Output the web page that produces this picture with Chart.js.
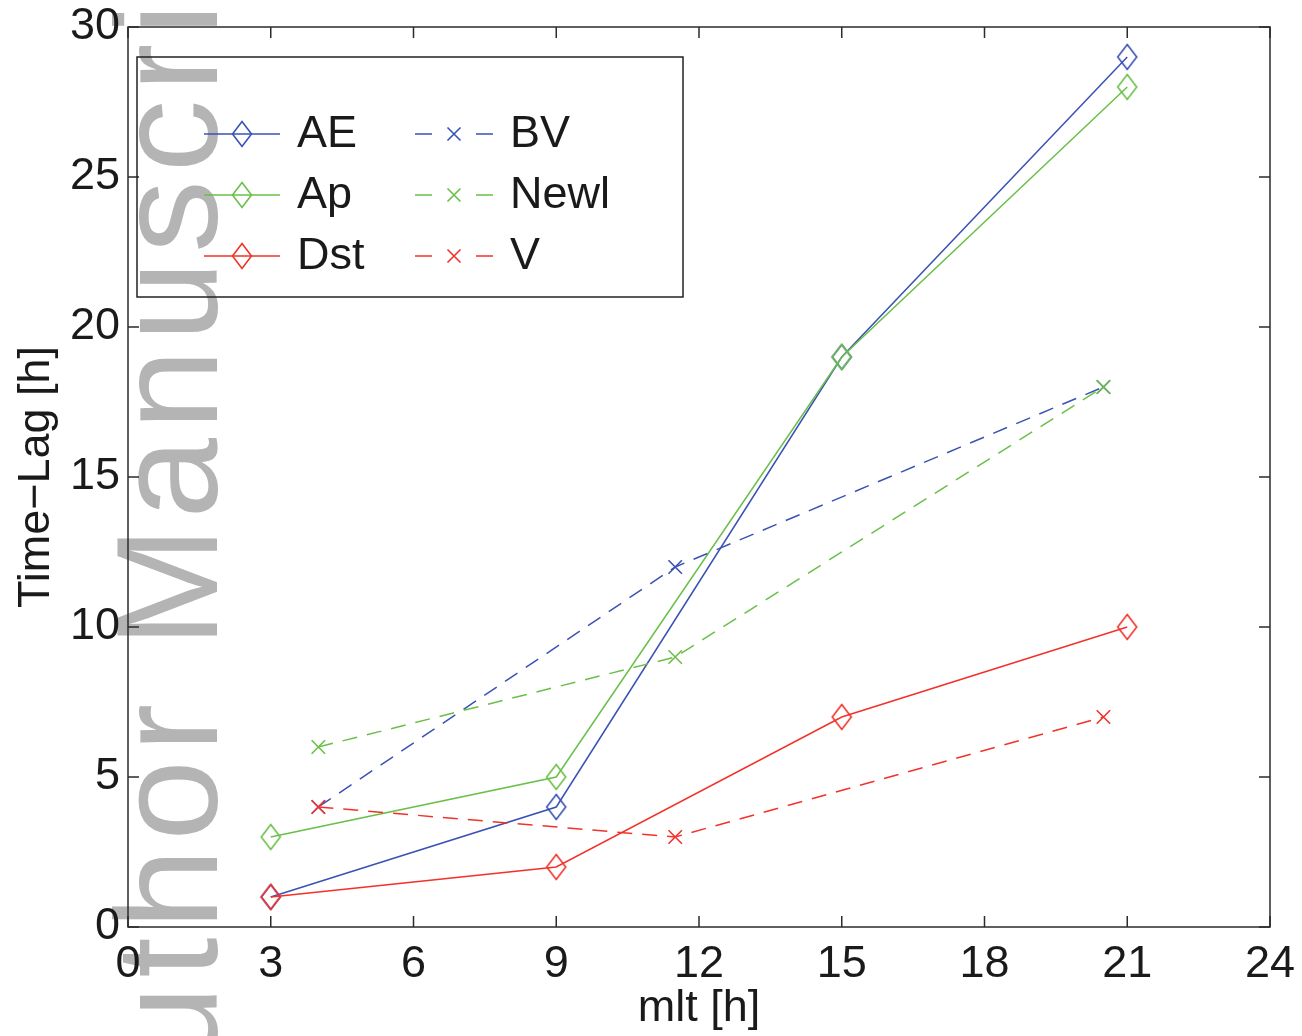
<!DOCTYPE html>
<html>
<head>
<meta charset="utf-8">
<script src="https://cdn.jsdelivr.net/npm/chart.js@4.4.1/dist/chart.umd.min.js"></script>
<style>
html, body { margin: 0; padding: 0; background: #fff; }
#wrap { width: 1302px; height: 1036px; }
</style>
</head>
<body>
<div id="wrap"><canvas id="lagChart" width="1302" height="1036"></canvas></div>
<script>
// values
const mltSolid = [3, 9, 15, 21];
const aeLag = [1, 4, 19, 29];
const apLag = [3, 5, 19, 28];
const dstLag = [1, 2, 7, 10];

const mltDashed = [4, 11.5, 20.5];
const bvLag = [4, 12, 18];
const newlLag = [6, 9, 18];
const vLag = [4, 3, 7];

const xTitle = 'mlt [h]';
const yTitle = 'Time\u2212Lag [h]';
const watermarkText = 'Author Manuscript';

const BLUE = '#3a52b4';
const GREEN = '#6abf48';
const RED = '#f2322a';
const FONT = '"Liberation Sans", Arial, Helvetica, sans-serif';

function diamondImg(color) {
    const c = document.createElement('canvas');
    c.width = 24; c.height = 30;
    const g = c.getContext('2d');
    g.strokeStyle = color;
    g.lineWidth = 1.6;
    g.beginPath();
    g.moveTo(12, 2.5); g.lineTo(21.5, 15); g.lineTo(12, 27.5); g.lineTo(2.5, 15);
    g.closePath();
    g.stroke();
    return c;
}

function series(label, xs, ys, color, dashed, order) {
    return {
        label,
        data: xs.map((v, i) => ({x: v, y: ys[i]})),
        borderColor: color,
        backgroundColor: color,
        borderWidth: 1.5,
        borderDash: dashed ? [15, 10] : [],
        pointStyle: dashed ? 'crossRot' : diamondImg(color),
        pointRadius: dashed ? 9.5 : 12,
        pointBorderWidth: 1.6,
        pointBorderColor: color,
        showLine: true,
        fill: false,
        order,
        dashed
    };
}

const watermark = {
    id: 'watermark',
    beforeDraw(chart) {
        const ctx = chart.ctx;
        ctx.save();
        ctx.fillStyle = '#b4b4b4';
        ctx.font = '145px ' + FONT;
        ctx.letterSpacing = '8px';
        ctx.textBaseline = 'alphabetic';
        ctx.translate(217, 1171);
        ctx.rotate(-Math.PI / 2);
        ctx.fillText(watermarkText, 0, 0);
        ctx.restore();
    }
};

// matlab style box with inward ticks
const boxAxes = {
    id: 'boxAxes',
    beforeDatasetsDraw(chart) {
        const {ctx, chartArea: a, scales: {x, y}} = chart;
        ctx.save();
        ctx.strokeStyle = '#2b2b2b';
        ctx.lineWidth = 1.5;
        ctx.strokeRect(a.left, a.top, a.right - a.left, a.bottom - a.top);
        ctx.beginPath();
        x.ticks.forEach(t => {
            const px = x.getPixelForValue(t.value);
            ctx.moveTo(px, a.bottom); ctx.lineTo(px, a.bottom - 11);
            ctx.moveTo(px, a.top); ctx.lineTo(px, a.top + 11);
        });
        y.ticks.forEach(t => {
            const py = y.getPixelForValue(t.value);
            ctx.moveTo(a.left, py); ctx.lineTo(a.left + 11, py);
            ctx.moveTo(a.right, py); ctx.lineTo(a.right - 11, py);
        });
        ctx.stroke();
        ctx.restore();
    }
};

const boxLegend = {
    id: 'boxLegend',
    afterDatasetsDraw(chart) {
        const ctx = chart.ctx;
        const sets = chart.data.datasets;
        ctx.save();
        ctx.strokeStyle = '#222';
        ctx.lineWidth = 1.5;
        ctx.strokeRect(137, 57, 546, 240);
        ctx.font = '45px ' + FONT;
        ctx.textBaseline = 'middle';
        ctx.textAlign = 'left';
        const rows = [134, 195, 256];
        sets.forEach((ds, i) => {
            const col = ds.dashed ? 1 : 0;
            const row = rows[i % 3];
            const x0 = col ? 415 : 204;
            const x1 = col ? 493 : 280;
            const mx = (x0 + x1) / 2;
            ctx.strokeStyle = ds.borderColor;
            ctx.lineWidth = 1.5;
            ctx.beginPath();
            if (col) {
                ctx.moveTo(x0, row); ctx.lineTo(x0 + 17, row);
                ctx.moveTo(x1 - 17, row); ctx.lineTo(x1, row);
            } else {
                ctx.moveTo(x0, row); ctx.lineTo(x1, row);
            }
            ctx.stroke();
            if (col) {
                ctx.lineWidth = 1.6;
                ctx.beginPath();
                ctx.moveTo(mx - 6.5, row - 6.5); ctx.lineTo(mx + 6.5, row + 6.5);
                ctx.moveTo(mx + 6.5, row - 6.5); ctx.lineTo(mx - 6.5, row + 6.5);
                ctx.stroke();
            } else {
                const img = ds.pointStyle;
                ctx.drawImage(img, mx - img.width / 2, row - img.height / 2);
            }
            ctx.fillStyle = '#1a1a1a';
            ctx.fillText(ds.label, col ? 510 : 297, row + 1);
        });
        ctx.restore();
    }
};

new Chart(document.getElementById('lagChart'), {
    type: 'scatter',
    data: {
        datasets: [
            series('AE', mltSolid, aeLag, BLUE, false, 6),
            series('Ap', mltSolid, apLag, GREEN, false, 5),
            series('Dst', mltSolid, dstLag, RED, false, 4),
            series('BV', mltDashed, bvLag, BLUE, true, 3),
            series('Newl', mltDashed, newlLag, GREEN, true, 2),
            series('V', mltDashed, vLag, RED, true, 1)
        ]
    },
    options: {
        responsive: false,
        animation: false,
        devicePixelRatio: 1,
        layout: { padding: { left: 0, right: 32, top: 27, bottom: 0 } },
        plugins: {
            legend: { display: false },
            tooltip: { enabled: false }
        },
        scales: {
            x: {
                type: 'linear',
                min: 0, max: 24,
                grid: { display: false },
                border: { display: false },
                ticks: { stepSize: 3, padding: 3, color: '#1a1a1a', font: { size: 45, family: FONT } },
                title: { display: true, text: xTitle, color: '#1a1a1a', padding: { top: -2, bottom: 0 }, font: { size: 45, family: FONT } },
                afterFit: s => {
                    s.height = 109;
                    s.paddingLeft = 0; s.paddingRight = 0;
                }
            },
            y: {
                type: 'linear',
                min: 0, max: 30,
                grid: { display: false },
                border: { display: false },
                ticks: { stepSize: 5, padding: 0, color: '#1a1a1a', font: { size: 45, family: FONT } },
                title: { display: true, text: yTitle, color: '#1a1a1a', padding: { top: 10, bottom: 0 }, font: { size: 45, family: FONT } },
                afterFit: s => {
                    s.width = 128;
                    s.paddingTop = 0; s.paddingBottom = 0;
                }
            }
        }
    },
    plugins: [watermark, boxAxes, boxLegend]
});
</script>
</body>
</html>
